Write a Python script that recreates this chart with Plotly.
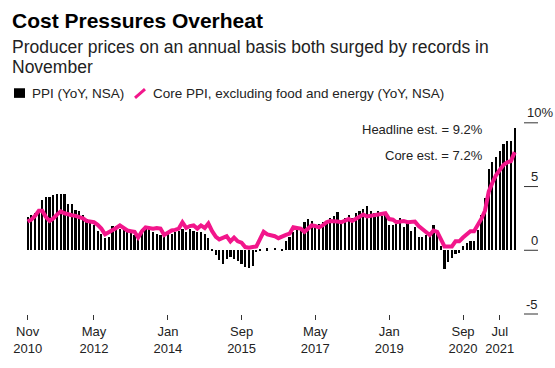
import plotly.graph_objects as go
import pandas as pd

# ---------------- data ----------------
months = pd.date_range("2010-11-01", "2021-11-01", freq="MS").strftime("%Y-%m-%d").tolist()

ppi_yoy = [
    2.6, 2.75,                                                            # 2010 Nov-Dec
    2.9, 3.2, 3.95, 4.2, 4.2, 4.3, 4.45, 4.4, 4.45, 3.65, 3.65, 3.15,     # 2011
    3.05, 2.75, 2.45, 2.25, 1.95, 1.55, 1.3, 1.0, 1.05, 1.9, 1.9, 1.7,    # 2012
    1.75, 1.55, 1.4, 1.2, 0.95, 1.7, 1.8, 1.7, 1.45, 1.3, 1.2, 1.1,       # 2013
    1.25, 1.25, 1.45, 1.5, 1.7, 1.45, 1.7, 1.55, 1.45, 1.45, 1.3, 0.95,   # 2014
    0.05, -0.35, -0.8, -1.05, -0.7, -0.55, -0.7, -0.85, -1.1, -1.35, -1.4, -1.2,  # 2015
    -0.1, 0.1, 0.0, 0.15, 0.0, 0.2, 0.0, 0.05, 0.7, 1.05, 1.45, 1.8,      # 2016
    1.7, 2.2, 2.45, 2.3, 1.95, 2.05, 2.2, 2.3, 2.55, 2.7, 3.0, 2.3,       # 2017
    2.55, 2.75, 2.55, 2.95, 3.05, 3.2, 3.45, 3.05, 2.95, 3.05, 2.7, 2.95, # 2018
    1.95, 1.95, 2.05, 2.55, 1.8, 2.2, 1.55, 1.8, 1.05, 1.05, 1.2, 1.35,   # 2019
    1.95, 1.3, 0.3, -1.45, -0.95, -0.6, -0.3, -0.25, 0.3, 0.55, 0.75, 0.75,  # 2020
    1.6, 2.8, 4.1, 6.4, 6.9, 7.3, 7.8, 8.3, 8.6, 8.6, 9.6,                # 2021 Jan-Nov
]

core_yoy = [
    2.25, 2.4,
    2.7, 3.1, 3.1, 2.6, 2.3, 2.5, 2.8, 3.05, 2.9, 2.8, 2.75, 2.7,
    2.6, 2.5, 2.3, 2.25, 2.2, 2.0, 1.7, 1.25, 1.4, 1.55, 1.75, 1.95,
    1.75, 1.55, 1.5, 1.45, 1.0, 1.5, 1.8, 1.75, 1.7, 1.75, 1.7, 1.2,
    1.4, 1.55, 1.6, 1.7, 2.2, 1.75, 1.9, 1.95, 1.7, 1.95, 1.75, 2.1,
    1.5, 1.05, 0.85, 0.95, 1.1, 0.7, 1.0, 0.7, 0.6, 0.25, 0.2, 0.25,
    0.3, 0.9, 1.45, 1.25, 1.2, 1.1, 0.95, 1.1, 1.2, 1.3, 1.8, 1.75,
    1.7, 1.45, 1.7, 1.95, 1.9, 1.8, 1.95, 2.2, 2.3, 2.3, 2.25, 2.2,
    2.35, 2.45, 2.3, 2.5, 2.6, 2.8, 2.65, 2.7, 2.7, 2.75, 2.8, 2.9,
    2.45, 2.4, 2.2, 2.25, 2.3, 2.2, 2.2, 2.25, 1.9, 1.7, 1.4, 1.2,
    1.55, 1.45, 0.9, 0.3, 0.3, 0.3, 0.7, 0.7, 1.0, 1.3, 1.5, 1.5,
    1.95, 2.5, 3.1, 4.6, 5.3, 5.9, 6.3, 6.7, 6.9, 7.0, 7.7,
]

tick_dates = ["2010-11-01", "2012-05-01", "2014-01-01", "2015-09-01",
              "2017-05-01", "2019-01-01", "2020-09-01", "2021-07-01"]
tick_text = ["Nov<br>2010", "May<br>2012", "Jan<br>2014", "Sep<br>2015",
             "May<br>2017", "Jan<br>2019", "Sep<br>2020", "Jul<br>2021"]

y_ticks = [10, 5, 0, -5]
y_tick_labels = ["10%", "5", "0", "-5"]

title = "Cost Pressures Overheat"
subtitle_lines = ["Producer prices on an annual basis both surged by records in", "November"]
legend_names = ["PPI (YoY, NSA)", "Core PPI, excluding food and energy (YoY, NSA)"]
notes = ["Headline est. = 9.2%", "Core est. = 7.2%"]

# ---------------- styling ----------------
PINK = "#f2168b"
FONT = "Liberation Sans, Arial, Helvetica, sans-serif"
W, H = 555, 368
ML, MR, MT, MB = 20, 35, 119, 46
PW, PH = W - ML - MR, H - MT - MB
Y0, Y1 = -5, 10.3


def px_x(p):
    return (p - ML) / PW


def px_y(p):
    return (H - MB - p) / PH


def val_y(v):
    return (v - Y0) / (Y1 - Y0)


DAY_MS = 86400000

fig = go.Figure()
fig.add_bar(x=months, y=ppi_yoy, name=legend_names[0], marker=dict(color="#000000", line=dict(width=0)),
            width=18 * DAY_MS, showlegend=False)
fig.add_scatter(x=months, y=core_yoy, name=legend_names[1], mode="lines",
                line=dict(color=PINK, width=4), showlegend=False)

shapes = []
annotations = []

# y-axis ticks on the right
for v, lab in zip(y_ticks, y_tick_labels):
    shapes.append(dict(type="line", xref="paper", yref="paper", x0=px_x(524), x1=px_x(538),
                       y0=val_y(v), y1=val_y(v), line=dict(color="#333333", width=1)))
    if lab.endswith("%"):
        annotations.append(dict(xref="paper", yref="paper", x=px_x(525.5), y=val_y(v), yshift=10, text=lab,
                                showarrow=False, xanchor="left", yanchor="middle", borderpad=0,
                                font=dict(family=FONT, size=13, color="#222222")))
    else:
        annotations.append(dict(xref="paper", yref="paper", x=px_x(538.5), y=val_y(v), yshift=10, text=lab,
                                showarrow=False, xanchor="right", yanchor="middle", borderpad=0,
                                font=dict(family=FONT, size=13, color="#222222")))

# title / subtitle
annotations.append(dict(xref="paper", yref="paper", x=px_x(11), y=px_y(16.5), text="<b>%s</b>" % title,
                        showarrow=False, xanchor="left", yanchor="middle", borderpad=0,
                        font=dict(family=FONT, size=21, color="#000000")))
for i, line in enumerate(subtitle_lines):
    annotations.append(dict(xref="paper", yref="paper", x=px_x(11), y=px_y(44.5 + 20.5 * i), text=line,
                            showarrow=False, xanchor="left", yanchor="middle", borderpad=0,
                            font=dict(family=FONT, size=17.5, color="#222222")))

# legend
shapes.append(dict(type="rect", xref="paper", yref="paper", x0=px_x(14), x1=px_x(25),
                   y0=px_y(97), y1=px_y(87), fillcolor="#000000", line=dict(width=0)))
shapes.append(dict(type="line", xref="paper", yref="paper", x0=px_x(135), x1=px_x(145),
                   y0=px_y(97), y1=px_y(88), line=dict(color=PINK, width=3)))
annotations.append(dict(xref="paper", yref="paper", x=px_x(31), y=px_y(92), text=legend_names[0],
                        showarrow=False, xanchor="left", yanchor="middle", borderpad=0,
                        font=dict(family=FONT, size=13.5, color="#222222")))
annotations.append(dict(xref="paper", yref="paper", x=px_x(151.5), y=px_y(92), text=legend_names[1],
                        showarrow=False, xanchor="left", yanchor="middle", borderpad=0,
                        font=dict(family=FONT, size=13.5, color="#222222")))

# estimate notes
for txt, py in zip(notes, [130, 157.5]):
    annotations.append(dict(xref="paper", yref="paper", x=px_x(484), y=px_y(py), text=txt,
                            showarrow=False, xanchor="right", yanchor="middle", borderpad=0,
                            font=dict(family=FONT, size=13, color="#222222")))

fig.update_layout(
    width=W, height=H,
    margin=dict(l=ML, r=MR, t=MT, b=MB, pad=0),
    paper_bgcolor="white", plot_bgcolor="white",
    bargap=0,
    showlegend=False,
    xaxis=dict(type="date", range=["2010-08-30", "2021-12-15"],
               tickmode="array", tickvals=tick_dates, ticktext=tick_text,
               ticks="outside", ticklen=5, tickwidth=1, tickcolor="#333333",
               showgrid=False, zeroline=False, showline=False,
               tickfont=dict(family=FONT, size=13, color="#222222")),
    yaxis=dict(range=[Y0, Y1], showticklabels=False, showgrid=False, zeroline=False,
               showline=False, ticks=""),
    shapes=shapes,
    annotations=annotations,
)

fig.write_html("out.html", config={"displayModeBar": False},
               post_script="document.body.style.margin='0';document.body.style.overflow='hidden';")
